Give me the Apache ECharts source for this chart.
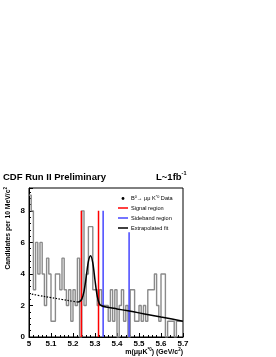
<!DOCTYPE html>
<html><head><meta charset="utf-8">
<script src="https://cdn.jsdelivr.net/npm/echarts@6/dist/echarts.min.js"></script>
<style>html,body{margin:0;padding:0;background:#fff}#c{width:276px;height:357px}</style>
</head><body><div id="c"></div>
<script>
// Histogram: 70 bins of 10 MeV from 5.00 to 5.70 GeV/c^2
const histLow = 5.0, binWidth = 0.01;
const counts = [9,8,3,6,4,6,4,2,5,4,
                1,1,4,4,3,5,3,2,3,1,
                3,2,5,0,8,2,4,7,7,3,
                3,2,3,2,2,2,1,3,1,3,
                0,2,3,1,2,0,3,3,1,1,
                2,1,2,1,3,3,3,4,2,1,
                4,4,0,1,1,1,0,1,1,1];
// Fit curve
const fitX = [5.00,5.05,5.10,5.15,5.20,5.22,5.23,5.24,5.25,5.26,5.27,5.28,5.29,5.30,5.31,5.32,5.33,5.35,5.40,5.45,5.50,5.55,5.60,5.65,5.70];
const fitY = [2.75,2.62,2.50,2.38,2.26,2.22,2.25,2.40,2.90,3.80,4.80,5.15,4.70,3.60,2.60,2.10,1.98,1.90,1.78,1.66,1.53,1.40,1.27,1.14,1.00];
const extrapolatedUntil = 5.22;
// Region markers
const signalX = [5.238, 5.316], signalTop = [8, 8];
const sidebandX = [5.337, 5.455], sidebandTop = [8, 6.65];
const xTicks = [5, 5.1, 5.2, 5.3, 5.4, 5.5, 5.6, 5.7];
const yTicks = [0, 2, 4, 6, 8];

const histData = counts.map((v, i) => [histLow + i * binWidth, v]);
histData.push([histLow + counts.length * binWidth, counts[counts.length - 1]]);
const fitDashed = [], fitSolid = [];
fitX.forEach((x, i) => {
  if (x <= extrapolatedUntil) fitDashed.push([x, fitY[i]]);
  if (x >= extrapolatedUntil) fitSolid.push([x, fitY[i]]);
});
const vline = (x, top, color) => ({
  type: 'line', data: [[x, 0], [x, top]], symbol: 'none', silent: true,
  lineStyle: { color, width: 1.5 }, z: 4
});

const F = 'Liberation Sans, Arial, sans-serif';
const chart = echarts.init(document.getElementById('c'), null, { renderer: 'canvas' });
const series = [
  { type: 'line', data: histData, step: 'end', symbol: 'none', lineStyle: { color: '#8a8a8a', width: 1.4 }, z: 2 },
  { type: 'line', data: fitDashed, symbol: 'none', smooth: true, lineStyle: { color: '#000', width: 1.2, type: [1.5, 1.5] }, z: 5 },
  { type: 'line', data: fitSolid, symbol: 'none', smooth: 0.3, lineStyle: { color: '#000', width: 1.5 }, z: 5 }
];
signalX.forEach((x, i) => series.push(vline(x, signalTop[i], '#ff0000')));
sidebandX.forEach((x, i) => series.push(vline(x, sidebandTop[i], '#4646ff')));

const sup = { fontSize: 4.5, fontFamily: F, fontWeight: 'bold', padding: [0, 0, 5, 0] };
chart.setOption({
  animation: false,
  grid: { left: 29, right: 93, top: 188, bottom: 20, show: true, borderColor: '#000', borderWidth: 1 },
  xAxis: {
    type: 'value', min: 5, max: 5.7, interval: 0.1,
    axisLine: { lineStyle: { color: '#000', width: 1 } },
    axisTick: { inside: true, length: 4, lineStyle: { color: '#000' } },
    minorTick: { show: true, splitNumber: 5, length: 2, lineStyle: { color: '#000' } },
    splitLine: { show: false },
    axisLabel: { margin: 3, color: '#000', fontFamily: F, fontWeight: 'bold', fontSize: 8,
      formatter: v => { const t = xTicks.find(k => Math.abs(k - v) < 1e-6); return t === undefined ? '' : (t === 5 ? '5' : t.toFixed(1)); } }
  },
  yAxis: {
    type: 'value', min: 0, max: 9.45, interval: 2,
    axisLine: { show: true, lineStyle: { color: '#000', width: 1 } },
    axisTick: { show: true, inside: true, length: 4, lineStyle: { color: '#000' } },
    minorTick: { show: true, splitNumber: 5, length: 2, lineStyle: { color: '#000' } },
    splitLine: { show: false },
    axisLabel: { showMaxLabel: false, margin: 4, color: '#000', fontFamily: F, fontWeight: 'bold', fontSize: 8,
      formatter: v => yTicks.includes(v) ? String(v) : '' }
  },
  series,
  graphic: [
    { type: 'text', x: 3, y: 177, style: { text: 'CDF Run II Preliminary', font: 'bold 9.5px ' + F, fill: '#000', verticalAlign: 'middle' } },
    { type: 'text', x: 156, y: 177, style: { text: '{a|L~1fb}{s|-1}', verticalAlign: 'middle', fill: '#000',
        rich: { a: { fontSize: 9.5, fontFamily: F, fontWeight: 'bold' }, s: { fontSize: 5.5, fontFamily: F, fontWeight: 'bold', padding: [0, 0, 7, 0] } } } },
    { type: 'text', x: 8, y: 187, rotation: Math.PI / 2, style: { text: '{a|Candidates per 10 MeV/c}{s|2}', align: 'right', verticalAlign: 'middle', fill: '#000',
        rich: { a: { fontSize: 6.8, fontFamily: F, fontWeight: 'bold' }, s: sup } } },
    { type: 'text', x: 183, y: 352, style: { text: '{a|m(\u03bc\u03bcK}{s|*0}{a|) (GeV/c}{s|2}{a|)}', align: 'right', verticalAlign: 'middle', fill: '#000',
        rich: { a: { fontSize: 7, fontFamily: F, fontWeight: 'bold' }, s: sup } } },
    // legend
    { type: 'circle', shape: { cx: 123, cy: 198.5, r: 1.4 }, style: { fill: '#000' } },
    { type: 'line', shape: { x1: 118, y1: 208, x2: 128, y2: 208 }, style: { stroke: '#ff0000', lineWidth: 1.5 } },
    { type: 'line', shape: { x1: 118, y1: 218, x2: 128, y2: 218 }, style: { stroke: '#4646ff', lineWidth: 1.5 } },
    { type: 'line', shape: { x1: 118, y1: 228, x2: 128, y2: 228 }, style: { stroke: '#000', lineWidth: 1.5 } },
    { type: 'text', x: 131, y: 198.5, style: { text: '{a|B}{s|0}{a|\u2192 \u03bc\u03bc K}{s|*0}{a| Data}', verticalAlign: 'middle', fill: '#000',
        rich: { a: { fontSize: 5.6, fontFamily: F }, s: { fontSize: 3.8, fontFamily: F, padding: [0, 0, 3, 0] } } } },
    { type: 'text', x: 131, y: 208, style: { text: 'Signal region', font: '5.6px ' + F, fill: '#000', verticalAlign: 'middle' } },
    { type: 'text', x: 131, y: 218, style: { text: 'Sideband region', font: '5.6px ' + F, fill: '#000', verticalAlign: 'middle' } },
    { type: 'text', x: 131, y: 228, style: { text: 'Extrapolated fit', font: '5.6px ' + F, fill: '#000', verticalAlign: 'middle' } }
  ]
});
</script></body></html>
